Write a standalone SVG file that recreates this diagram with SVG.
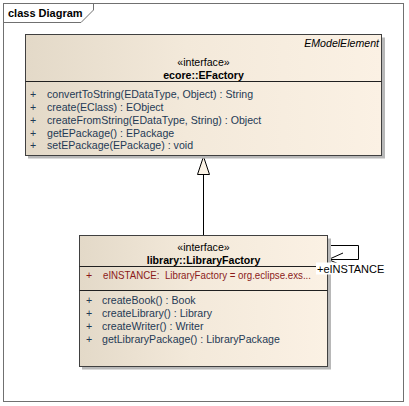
<svg xmlns="http://www.w3.org/2000/svg" width="409" height="406" viewBox="0 0 409 406">
<style>
text{font-family:"Liberation Sans",Arial,sans-serif;font-size:10.6px;fill:#000}
.op{fill:#1f3a55}
.attr{fill:#8b1a1a}
.b{font-weight:bold}
.c{text-anchor:middle}
.box{stroke:#404040;stroke-width:1;fill:url(#g)}
.sh{fill:#b8b8b8}
.sep{stroke:#202020;stroke-width:1}
.ln{stroke:#000;stroke-width:1;fill:none}
</style>
<defs>
<linearGradient id="g" x1="0" y1="0" x2="1" y2="0">
<stop offset="0" stop-color="#e3d9c8"/>
<stop offset="0.45" stop-color="#f3e9da"/>
<stop offset="1" stop-color="#fbf1e4"/>
</linearGradient>
</defs>
<rect x="0" y="0" width="409" height="406" fill="#fff"/>
<g id="frame">
<rect x="3.5" y="3.5" width="400" height="398" fill="#fff" stroke="#707070"/>
<path d="M3.5,22.5 H81 L93.5,10 V3.5" fill="none" stroke="#707070"/>
<text x="8" y="17" class="b" style="font-size:11px">class Diagram</text>
</g>
<g id="connectors">
<line class="ln" x1="203.5" y1="235" x2="203.5" y2="174"/>
<polygon points="203.5,156.5 197.5,174.5 209.5,174.5" fill="#fbf3e6" stroke="#000"/>
<path class="ln" d="M328,245.5 H358.5 V259.5 H328.5"/>
<path class="ln" d="M343,253 L328.5,259.5 L343,266"/>
</g>
<g id="EFactory">
<rect class="sh" x="28" y="37.5" width="357" height="121"/>
<rect class="box" x="25.5" y="34.5" width="356" height="121"/>
<line class="sep" x1="25.5" y1="81.5" x2="381.5" y2="81.5"/>
<text x="379" y="47" style="font-style:italic;text-anchor:end">EModelElement</text>
<text x="203.5" y="66" class="c">«interface»</text>
<text x="203.5" y="79" class="c b">ecore::EFactory</text>
<text x="30" y="98" class="op">+</text><text x="47" y="98" class="op">convertToString(EDataType, Object) : String</text>
<text x="30" y="111" class="op">+</text><text x="47" y="111" class="op">create(EClass) : EObject</text>
<text x="30" y="123.5" class="op">+</text><text x="47" y="123.5" class="op">createFromString(EDataType, String) : Object</text>
<text x="30" y="136.5" class="op">+</text><text x="47" y="136.5" class="op">getEPackage() : EPackage</text>
<text x="30" y="149" class="op">+</text><text x="47" y="149" class="op">setEPackage(EPackage) : void</text>
</g>
<g id="LibraryFactory">
<rect class="sh" x="82" y="238.5" width="249" height="131"/>
<rect class="box" x="79.5" y="235.5" width="248" height="131"/>
<line class="sep" x1="79.5" y1="266.5" x2="327.5" y2="266.5"/>
<line class="sep" x1="79.5" y1="290.5" x2="327.5" y2="290.5"/>
<text x="203.5" y="251" class="c">«interface»</text>
<text x="203.5" y="263.5" class="c b">library::LibraryFactory</text>
<text x="86" y="279" class="attr">+</text><text x="103" y="279" class="attr" xml:space="preserve" textLength="208" lengthAdjust="spacingAndGlyphs">eINSTANCE:  LibraryFactory = org.eclipse.exs...</text>
<text x="86" y="304" class="op">+</text><text x="102" y="304" class="op">createBook() : Book</text>
<text x="86" y="317" class="op">+</text><text x="102" y="317" class="op">createLibrary() : Library</text>
<text x="86" y="329.5" class="op">+</text><text x="102" y="329.5" class="op">createWriter() : Writer</text>
<text x="86" y="342.5" class="op">+</text><text x="102" y="342.5" class="op">getLibraryPackage() : LibraryPackage</text>
</g>
<g id="label-eINSTANCE">
<rect x="316" y="262.5" width="64" height="12" fill="#fff"/>
<text x="317" y="272.5" style="font-size:11px">+eINSTANCE</text>
</g>
</svg>
